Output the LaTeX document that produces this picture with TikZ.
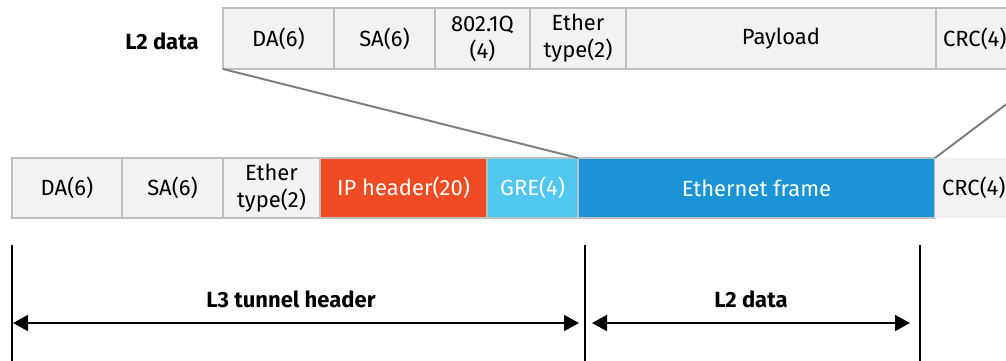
\documentclass[tikz,border=0pt]{standalone}
\usepackage{fontspec}
\setmainfont{Fira Sans}
\usetikzlibrary{positioning,arrows.meta}
\definecolor{cellgray}{RGB}{242,242,242}
\definecolor{edgegray}{RGB}{191,191,191}
\definecolor{linegray}{RGB}{128,128,128}
\definecolor{ipred}{RGB}{240,75,35}
\definecolor{grecyan}{RGB}{80,198,240}
\definecolor{ethblue}{RGB}{26,148,212}

\begin{document}
\begin{tikzpicture}[x=1pt, y=-1pt,
    cell/.style={rectangle, draw=edgegray, line width=1.5pt, fill=#1,
                 minimum height=60pt, inner sep=0pt, outer sep=0pt,
                 anchor=north west, align=center,
                 font=\fontsize{22}{27}\selectfont},
    cell/.default=cellgray,
    hot/.style={cell=#1, text=white},
    edgecell/.style={cell, align=left, text width=#1, inner xsep=7pt},
    lbl/.style={font=\fontsize{22}{26}\selectfont\bfseries},
    zoomline/.style={linegray, line width=2pt},
    tick/.style={black, line width=1.8pt},
    dim/.style={black, line width=1.8pt, {Triangle[length=15pt,width=16pt]}-{Triangle[length=15pt,width=16pt]}}
]

\useasboundingbox (0,0) rectangle (1006,360);
\clip (0,0) rectangle (1006,360);

% inner L2 frame
\node[lbl] (ttitle) at (162,41) {L2 data};
\node[cell, minimum width=111pt, minimum height=61pt] (tda) at (223,8) {DA(6)};
\node[cell, minimum width=101pt, minimum height=61pt, right=0pt of tda] (tsa) {SA(6)};
\node[cell, minimum width=95pt, minimum height=61pt, right=0pt of tsa] (tvlan) {802.1Q\\(4)};
\node[cell, minimum width=96pt, minimum height=61pt, right=0pt of tvlan] (ttype) {Ether\\type(2)};
\node[cell, minimum width=310pt, minimum height=61pt, right=0pt of ttype] (tpay) {Payload};
\node[edgecell=103pt, minimum height=61pt, right=0pt of tpay] (tcrc) {CRC(4)};

% tunnelled frame
\node[cell, minimum width=110pt] (bda) at (12,158) {DA(6)};
\node[cell, minimum width=101pt, right=0pt of bda] (bsa) {SA(6)};
\node[cell, minimum width=97pt, right=0pt of bsa] (btype) {Ether\\type(2)};
\node[hot=ipred, minimum width=167pt, right=0pt of btype] (bip) {IP header(20)};
\node[hot=grecyan, minimum width=91pt, right=0pt of bip] (bgre) {GRE(4)};
\node[hot=ethblue, minimum width=357pt, right=0pt of bgre] (beth) {Ethernet frame};
\node[edgecell=96pt, draw=none, right=0pt of beth] (bcrc) {CRC(4)};

\draw[zoomline] (tda.south west) -- (beth.north west);
\draw[zoomline] (tcrc.south east) -- (beth.north east);

% extents
\coordinate (v1t) at (12,245);  \coordinate (v1b) at (12,362);
\coordinate (v2t) at (585,245); \coordinate (v2b) at (585,362);
\coordinate (v3t) at (920,245); \coordinate (v3b) at (920,362);
\draw[tick] (v1t) -- (v1b);
\draw[tick] (v2t) -- (v2b);
\draw[tick] (v3t) -- (v3b);

\coordinate (a1l) at (13,323);  \coordinate (a1r) at (579,323);
\coordinate (a2l) at (592,323); \coordinate (a2r) at (910,323);
\draw[dim] (a1l) -- (a1r);
\draw[dim] (a2l) -- (a2r);

\node[lbl] (ltun) at (291,299) {L3 tunnel header};
\node[lbl] (ldata) at (751,299) {L2 data};

\end{tikzpicture}
\end{document}
